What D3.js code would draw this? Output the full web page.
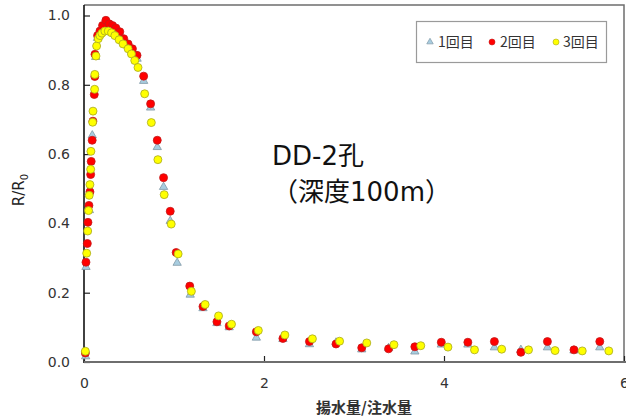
<!DOCTYPE html>
<html>
<head>
<meta charset="utf-8">
<script src="https://cdn.jsdelivr.net/npm/d3@7/dist/d3.min.js"></script>
<style>
  html, body { margin: 0; padding: 0; background: #fff; }
  svg { display: block; }
</style>
</head>
<body>
<svg id="chart" width="626" height="417"></svg>
<script>
// Ratio R/R0 against pumped/injected volume, three repeated runs
const run1X = [0.018, 0.022, 0.060, 0.092, 0.130, 0.150, 0.180, 0.210, 0.245, 0.280, 0.320, 0.355, 0.400, 0.440, 0.490, 0.540,
  0.590, 0.663, 0.740, 0.814, 0.884, 0.958, 1.035, 1.180, 1.322, 1.477, 1.613, 1.915, 2.210, 2.505, 2.800, 3.086, 3.384,
  3.676, 3.970, 4.265, 4.560, 4.854, 5.149, 5.444, 5.731];
const run1Y = [0.016, 0.274, 0.438, 0.654, 0.880, 0.935, 0.952, 0.962, 0.970, 0.968, 0.962, 0.955, 0.945, 0.928, 0.912, 0.898,
  0.875, 0.811, 0.734, 0.620, 0.505, 0.407, 0.286, 0.194, 0.155, 0.112, 0.100, 0.070, 0.066, 0.051, 0.056, 0.036, 0.040,
  0.030, 0.050, 0.050, 0.042, 0.035, 0.042, 0.033, 0.042];

const run2X = [0.015, 0.022, 0.037, 0.044, 0.055, 0.066, 0.074, 0.080, 0.091, 0.099, 0.114, 0.120, 0.122, 0.151, 0.177,
  0.206, 0.243, 0.280, 0.317, 0.354, 0.398, 0.442, 0.490, 0.538, 0.589, 0.663, 0.740, 0.814, 0.884, 0.958, 1.024, 1.175,
  1.322, 1.477, 1.613, 1.915, 2.210, 2.505, 2.800, 3.086, 3.384, 3.676, 3.970, 4.265, 4.560, 4.854, 5.149, 5.444, 5.731];
const run2Y = [0.026, 0.288, 0.342, 0.403, 0.452, 0.491, 0.541, 0.579, 0.640, 0.695, 0.772, 0.824, 0.888, 0.942, 0.955,
  0.971, 0.986, 0.976, 0.971, 0.964, 0.953, 0.933, 0.918, 0.904, 0.885, 0.825, 0.745, 0.640, 0.532, 0.435, 0.316, 0.219,
  0.160, 0.116, 0.104, 0.087, 0.068, 0.059, 0.052, 0.041, 0.038, 0.044, 0.057, 0.057, 0.059, 0.028, 0.059, 0.035, 0.059];

const run3X = [0.015, 0.030, 0.041, 0.050, 0.058, 0.066, 0.074, 0.077, 0.096, 0.100, 0.118, 0.120, 0.133, 0.140, 0.158,
  0.177, 0.199, 0.232, 0.269, 0.306, 0.343, 0.390, 0.434, 0.490, 0.527, 0.564, 0.600, 0.674, 0.748, 0.821, 0.891, 0.969,
  1.046, 1.193, 1.346, 1.495, 1.639, 1.937, 2.232, 2.538, 2.840, 3.142, 3.444, 3.742, 4.044, 4.339, 4.641, 4.939, 5.234,
  5.536, 5.831];
const run3Y = [0.031, 0.314, 0.378, 0.437, 0.481, 0.512, 0.556, 0.608, 0.692, 0.724, 0.787, 0.830, 0.883, 0.912, 0.933,
  0.942, 0.949, 0.955, 0.955, 0.950, 0.942, 0.930, 0.918, 0.904, 0.889, 0.870, 0.850, 0.774, 0.691, 0.584, 0.483, 0.398,
  0.312, 0.204, 0.166, 0.133, 0.109, 0.091, 0.078, 0.067, 0.060, 0.055, 0.050, 0.047, 0.043, 0.035, 0.037, 0.035, 0.033,
  0.032, 0.032];

const xTicks = [0, 2, 4, 6];
const yTicks = [0.0, 0.2, 0.4, 0.6, 0.8, 1.0];
const legendLabels = ["1回目", "2回目", "3回目"];
const noteLines = ["DD-2孔", "（深度100m）"];

const svg = d3.select("#chart");
const plotLeft = 84, plotRight = 624, plotBottom = 362, plotTop = 5;

const x = d3.scaleLinear().domain([0, 6]).range([plotLeft, plotRight]);
const y = d3.scaleLinear().domain([0, 1]).range([plotBottom, 15.5]);

const numFont = "'DejaVu Sans', Verdana, sans-serif";
const jpFont = "'Noto Sans CJK JP', 'Noto Sans', sans-serif";
const mixFont = "'DejaVu Sans', 'Noto Sans CJK JP', sans-serif";

// plot frame (top and right)
svg.append("path")
  .attr("d", `M${plotLeft},${plotTop}H${plotRight}V${plotBottom}`)
  .attr("fill", "none").attr("stroke", "#6e6e6e").attr("stroke-width", 1.5);

// y axis with inward ticks
const yAxis = d3.axisLeft(y).tickValues(yTicks).tickSizeInner(-6).tickSizeOuter(0)
  .tickPadding(14).tickFormat(d3.format(".1f"));
const gy = svg.append("g").attr("transform", `translate(${plotLeft},0)`).call(yAxis);
gy.select(".domain").remove();
gy.selectAll(".tick line").attr("stroke", "#222").attr("stroke-width", 1.2);
gy.selectAll(".tick text").attr("font-family", numFont).attr("font-size", 14).attr("fill", "#333");
svg.append("line").attr("x1", plotLeft).attr("x2", plotLeft).attr("y1", plotTop).attr("y2", plotBottom + 1)
  .attr("stroke", "#111").attr("stroke-width", 1.6);

// x axis with inward ticks
const xAxis = d3.axisBottom(x).tickValues(xTicks).tickSizeInner(-6).tickSizeOuter(0)
  .tickPadding(16).tickFormat(d3.format("d"));
const gx = svg.append("g").attr("transform", `translate(0,${plotBottom})`).call(xAxis);
gx.select(".domain").remove();
gx.selectAll(".tick line").attr("stroke", "#222").attr("stroke-width", 1.2);
gx.selectAll(".tick text").attr("font-family", numFont).attr("font-size", 14).attr("fill", "#333");
svg.append("line").attr("x1", plotLeft).attr("x2", plotRight + 4).attr("y1", plotBottom).attr("y2", plotBottom)
  .attr("stroke", "#6e6e6e").attr("stroke-width", 2.2);

// axis titles
const yTitle = svg.append("text")
  .attr("transform", "translate(24,190) rotate(-90)")
  .attr("text-anchor", "middle").attr("font-family", numFont).attr("font-size", 15).attr("fill", "#222");
yTitle.append("tspan").text("R/R");
yTitle.append("tspan").attr("font-size", 10).attr("dy", 4).text("0");

svg.append("text").attr("x", 364).attr("y", 413).attr("text-anchor", "middle")
  .attr("font-family", jpFont).attr("font-size", 15).attr("font-weight", "bold").attr("fill", "#333")
  .text("揚水量/注水量");

// markers
const triSym = d3.symbol().type(d3.symbolTriangle).size(30);
svg.append("g").selectAll("path").data(d3.range(run1X.length)).join("path")
  .attr("d", triSym)
  .attr("transform", i => `translate(${x(run1X[i])},${y(run1Y[i])})`)
  .attr("fill", "#a8cde0").attr("stroke", "#8098a6").attr("stroke-width", 0.8);

svg.append("g").selectAll("circle").data(d3.range(run2X.length)).join("circle")
  .attr("cx", i => x(run2X[i])).attr("cy", i => y(run2Y[i])).attr("r", 4)
  .attr("fill", "#ff0000").attr("stroke", "#c21a1a").attr("stroke-width", 0.8);

svg.append("g").selectAll("circle").data(d3.range(run3X.length)).join("circle")
  .attr("cx", i => x(run3X[i])).attr("cy", i => y(run3Y[i])).attr("r", 4)
  .attr("fill", "#ffff00").attr("stroke", "#a8a820").attr("stroke-width", 0.8);

// legend
const lg = svg.append("g");
lg.append("rect").attr("x", 416.5).attr("y", 21.5).attr("width", 190).attr("height", 41)
  .attr("fill", "#fff").attr("stroke", "#9a9a9a").attr("stroke-width", 1.2);
const legX = [430, 492, 556];
const legTextX = [438, 500, 563];
lg.append("path").attr("d", d3.symbol().type(d3.symbolTriangle).size(18))
  .attr("transform", `translate(${legX[0]},42)`).attr("fill", "#a8cde0").attr("stroke", "#8098a6").attr("stroke-width", 0.7);
lg.append("circle").attr("cx", legX[1]).attr("cy", 42).attr("r", 3)
  .attr("fill", "#ff0000").attr("stroke", "#c21a1a").attr("stroke-width", 0.6);
lg.append("circle").attr("cx", legX[2]).attr("cy", 42).attr("r", 3)
  .attr("fill", "#ffff00").attr("stroke", "#a8a820").attr("stroke-width", 0.6);
legendLabels.forEach((t, i) => {
  lg.append("text").attr("x", legTextX[i]).attr("y", 47)
    .attr("font-family", jpFont).attr("font-size", 14).attr("fill", "#333").text(t);
});

// annotation
svg.append("text").attr("x", 272).attr("y", 165)
  .attr("font-family", mixFont).attr("font-size", 26).attr("fill", "#111").text(noteLines[0]);
svg.append("text").attr("x", 272).attr("y", 201)
  .attr("font-family", mixFont).attr("font-size", 26).attr("fill", "#111").text(noteLines[1]);
</script>
</body>
</html>
